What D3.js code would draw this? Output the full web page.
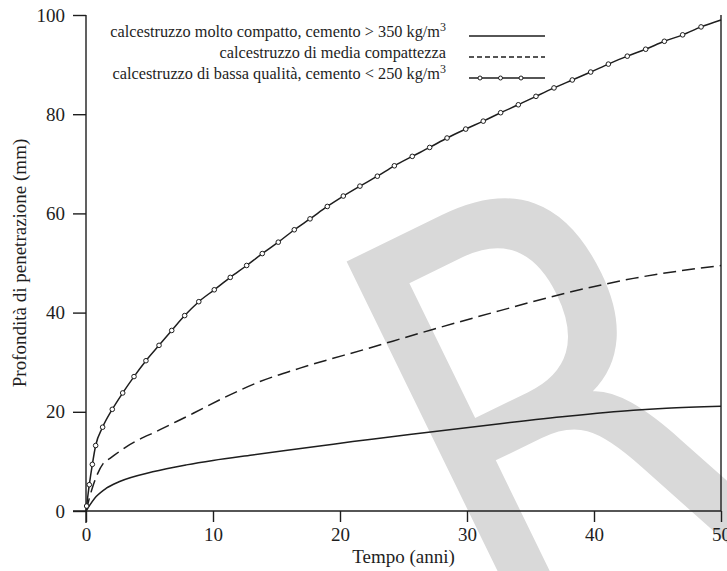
<!DOCTYPE html>
<html>
<head>
<meta charset="utf-8">
<script src="https://cdn.jsdelivr.net/npm/d3@7"></script>
<style>
  html, body { margin: 0; padding: 0; background: #fff; }
  svg { display: block; }
</style>
</head>
<body>
<svg id="chart" width="727" height="571"></svg>
<script>
// Penetration depth (mm) versus time (years) for three concrete qualities.

// calcestruzzo molto compatto
const compattoX = [0, 0.8, 1.6, 2.6, 5.25, 7.9, 10, 13.1, 15.7, 18.4, 21, 23.6, 27.3, 32.6, 37.9, 43.1, 45.7, 50];
const compattoY = [0, 2.9, 4.6, 5.9, 7.9, 9.3, 10.2, 11.3, 12.2, 13.1, 14.0, 14.8, 16.0, 17.6, 19.1, 20.3, 20.7, 21.1];

// calcestruzzo di media compattezza
const mediaX = [0, 0.58, 1.36, 1.89, 3.2, 5.83, 8.45, 11.08, 13.7, 16.85, 22.1, 27.3, 32.6, 37.9, 43.1, 50];
const mediaY = [0, 5.3, 9.6, 10.6, 13.0, 16.4, 19.7, 23.1, 26.1, 28.8, 32.7, 36.6, 40.4, 44.0, 46.9, 49.5];

// calcestruzzo di bassa qualità (the last point is the curve end, drawn without a marker)
const bassaX = [0.05, 0.26, 0.5, 0.76, 1.31, 2.07, 2.89, 3.78, 4.72, 5.75, 6.75, 7.77, 8.88,
  10.10, 11.36, 12.65, 13.88, 15.14, 16.40, 17.64, 19.0, 20.26, 21.57, 22.94, 24.28, 25.69,
  27.06, 28.43, 29.9, 31.28, 32.65, 34.04, 35.43, 36.85, 38.29, 39.74, 41.13, 42.62, 44.07,
  45.54, 46.98, 48.43, 50];
const bassaY = [1.0, 5.3, 9.4, 13.2, 16.9, 20.5, 23.8, 27.1, 30.3, 33.4, 36.4, 39.4, 42.2,
  44.6, 47.1, 49.5, 51.9, 54.2, 56.7, 58.9, 61.4, 63.5, 65.5, 67.5, 69.6, 71.5,
  73.3, 75.2, 77.0, 78.6, 80.3, 81.9, 83.6, 85.3, 86.9, 88.5, 90.1, 91.7, 93.1,
  94.7, 96.0, 97.6, 99.0];

const xTicks = [0, 10, 20, 30, 40, 50];
const yTicks = [0, 20, 40, 60, 80, 100];

const legendLabels = [
  { text: "calcestruzzo molto compatto, cemento > 350 kg/m", sup: "3" },
  { text: "calcestruzzo di media compattezza", sup: "" },
  { text: "calcestruzzo di bassa qualità, cemento < 250 kg/m", sup: "3" }
];

const xTitle = "Tempo (anni)";
const yTitle = "Profondità di penetrazione (mm)";

const ink = "#1e1e1e";
const serif = "'Liberation Serif', 'Times New Roman', serif";

const svg = d3.select("#chart");

const x = d3.scaleLinear().domain([0, 50]).range([86, 721]);
const y = d3.scaleLinear().domain([0, 100]).range([511, 15]);

// large grey "R" mark in the background
svg.append("text")
  .attr("transform", "translate(490,662) rotate(-26) scale(0.82,1)")
  .attr("font-family", "'DejaVu Sans', sans-serif")
  .attr("font-size", 580)
  .attr("fill", "#d9d9d9")
  .text("R");

// axes
const yAxis = svg.append("g")
  .attr("transform", `translate(${x(0)},0)`)
  .call(d3.axisLeft(y).tickValues(yTicks).tickSize(13).tickPadding(8).tickFormat(d3.format("d")));
const xAxis = svg.append("g")
  .attr("transform", `translate(0,${y(0)})`)
  .call(d3.axisBottom(x).tickValues(xTicks).tickSize(11).tickPadding(6).tickFormat(d3.format("d")));

[xAxis, yAxis].forEach(g => {
  g.select(".domain").remove();
  g.selectAll(".tick line").attr("stroke", ink).attr("stroke-width", 1.4);
  g.selectAll(".tick text")
    .attr("fill", ink)
    .attr("font-family", serif)
    .attr("font-size", 19);
});

// axis lines and right frame
svg.append("line")
  .attr("x1", x(0)).attr("x2", x(0))
  .attr("y1", y(100)).attr("y2", y(0) + 12)
  .attr("stroke", ink).attr("stroke-width", 1.4);
svg.append("line")
  .attr("x1", x(0) - 13).attr("x2", x(50))
  .attr("y1", y(0)).attr("y2", y(0))
  .attr("stroke", ink).attr("stroke-width", 1.4);
svg.append("line")
  .attr("x1", x(50)).attr("x2", x(50))
  .attr("y1", y(100)).attr("y2", y(0))
  .attr("stroke", ink).attr("stroke-width", 1.4);

// axis titles
svg.append("text")
  .attr("x", (x(0) + x(50)) / 2).attr("y", 563)
  .attr("text-anchor", "middle")
  .attr("font-family", serif).attr("font-size", 19)
  .attr("fill", ink)
  .text(xTitle);
svg.append("text")
  .attr("transform", `translate(26,${(y(0) + y(100)) / 2}) rotate(-90)`)
  .attr("text-anchor", "middle")
  .attr("font-family", serif).attr("font-size", 19)
  .attr("fill", ink)
  .text(yTitle);

// curves
const line = d3.line()
  .x(d => x(d[0]))
  .y(d => y(d[1]))
  .curve(d3.curveMonotoneX);

const zip = (xs, ys) => xs.map((v, i) => [v, ys[i]]);
const compatto = zip(compattoX, compattoY);
const media = zip(mediaX, mediaY);
const bassa = zip(bassaX, bassaY);

svg.append("path")
  .attr("d", line(compatto))
  .attr("fill", "none").attr("stroke", ink).attr("stroke-width", 1.5);

svg.append("path")
  .attr("d", line(media))
  .attr("fill", "none").attr("stroke", ink).attr("stroke-width", 1.5)
  .attr("stroke-dasharray", "13,6");

svg.append("path")
  .attr("d", line(bassa))
  .attr("fill", "none").attr("stroke", ink).attr("stroke-width", 1.5);

svg.append("g")
  .selectAll("circle")
  .data(bassa.slice(0, -1))
  .join("circle")
  .attr("cx", d => x(d[0]))
  .attr("cy", d => y(d[1]))
  .attr("r", 2.3)
  .attr("fill", "#fff")
  .attr("stroke", ink)
  .attr("stroke-width", 1);

// legend
const legend = svg.append("g");
const legendRows = [37, 58, 79];
const symX0 = 469, symX1 = 545;

legendLabels.forEach((lab, i) => {
  const t = legend.append("text")
    .attr("x", 446).attr("y", legendRows[i])
    .attr("text-anchor", "end")
    .attr("font-family", serif).attr("font-size", 16.3)
    .attr("fill", ink);
  t.append("tspan").text(lab.text);
  if (lab.sup) {
    t.append("tspan").attr("dy", -6).attr("font-size", 12).text(lab.sup);
  }
  const ly = legendRows[i] - 1;
  const sym = legend.append("line")
    .attr("x1", symX0).attr("x2", symX1)
    .attr("y1", ly).attr("y2", ly)
    .attr("stroke", ink).attr("stroke-width", 1.3);
  if (i === 1) sym.attr("stroke-dasharray", "5,3");
  if (i === 2) {
    [480, 500.5, 521].forEach(cx => {
      legend.append("circle")
        .attr("cx", cx).attr("cy", ly).attr("r", 2)
        .attr("fill", "#fff").attr("stroke", ink).attr("stroke-width", 1);
    });
  }
});
</script>
</body>
</html>
